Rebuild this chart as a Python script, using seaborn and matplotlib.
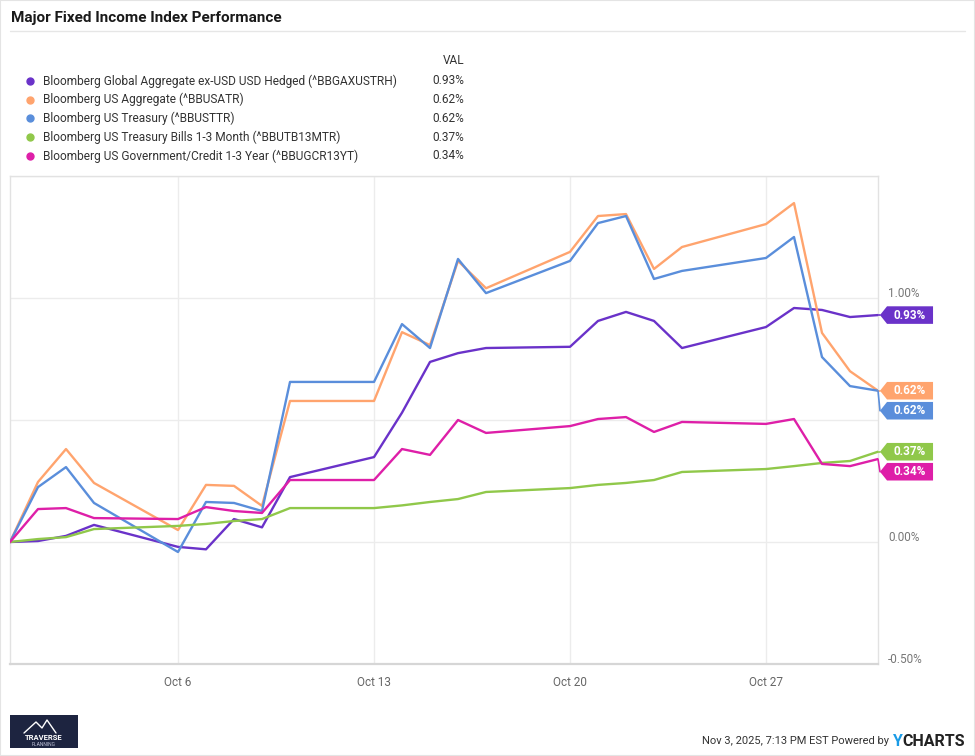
import pandas as pd
import seaborn as sns
import matplotlib.pyplot as plt
import matplotlib.transforms as mtransforms
from matplotlib.patches import Polygon, Rectangle
from matplotlib.lines import Line2D

# trading days shown on the chart (calendar x axis, weekends skipped)
dates = pd.to_datetime([
    "2025-09-30", "2025-10-01", "2025-10-02", "2025-10-03",
    "2025-10-06", "2025-10-07", "2025-10-08", "2025-10-09", "2025-10-10",
    "2025-10-13", "2025-10-14", "2025-10-15", "2025-10-16", "2025-10-17",
    "2025-10-20", "2025-10-21", "2025-10-22", "2025-10-23", "2025-10-24",
    "2025-10-27", "2025-10-28", "2025-10-29", "2025-10-30", "2025-10-31",
])

series_names = [
    "Bloomberg Global Aggregate ex-USD USD Hedged (^BBGAXUSTRH)",
    "Bloomberg US Aggregate (^BBUSATR)",
    "Bloomberg US Treasury (^BBUSTTR)",
    "Bloomberg US Treasury Bills 1-3 Month (^BBUTB13MTR)",
    "Bloomberg US Government/Credit 1-3 Year (^BBUGCR13YT)",
]

global_agg = [0.00, 0.004, 0.025, 0.07, -0.02, -0.03, 0.094, 0.06, 0.266,
              0.348, 0.53, 0.738, 0.774, 0.795, 0.80, 0.906, 0.943, 0.906,
              0.795, 0.881, 0.959, 0.951, 0.922, 0.93]
us_agg = [0.00, 0.246, 0.381, 0.242, 0.049, 0.234, 0.23, 0.148, 0.578,
          0.578, 0.86, 0.807, 1.152, 1.04, 1.189, 1.336, 1.344, 1.119,
          1.209, 1.303, 1.389, 0.857, 0.70, 0.62]
us_treasury = [0.00, 0.225, 0.307, 0.16, -0.041, 0.164, 0.16, 0.127, 0.656,
               0.656, 0.893, 0.795, 1.16, 1.02, 1.152, 1.307, 1.336, 1.078,
               1.111, 1.164, 1.25, 0.758, 0.639, 0.62]
tbills = [0.00, 0.012, 0.02, 0.053, 0.066, 0.074, 0.086, 0.094, 0.139,
          0.139, 0.15, 0.164, 0.176, 0.205, 0.221, 0.234, 0.242, 0.254,
          0.287, 0.299, 0.311, 0.324, 0.332, 0.37]
govcredit = [0.00, 0.135, 0.139, 0.098, 0.094, 0.143, 0.127, 0.119, 0.254,
             0.254, 0.381, 0.357, 0.50, 0.447, 0.475, 0.504, 0.512, 0.451,
             0.492, 0.484, 0.504, 0.32, 0.311, 0.34]

colors = ["#6a32c9", "#ffa46e", "#5a8edb", "#90c84a", "#de1fa8"]

y_ticks = [-0.5, 0.0, 0.5, 1.0]
y_tick_labels = ["-0.50%", "0.00%", "0.50%", "1.00%"]
x_ticks = pd.to_datetime(["2025-10-06", "2025-10-13", "2025-10-20", "2025-10-27"])
x_tick_labels = ["Oct 6", "Oct 13", "Oct 20", "Oct 27"]

df = pd.DataFrame({"date": dates})
for name, vals in zip(series_names, [global_agg, us_agg, us_treasury, tbills, govcredit]):
    df[name] = vals
long_df = df.melt(id_vars="date", var_name="index", value_name="value")

sns.set_theme(style="white")
plt.rcParams["font.family"] = ["Roboto", "DejaVu Sans"]

W, H = 975, 756
fig = plt.figure(figsize=(W / 100, H / 100), dpi=100)
ax = fig.add_axes([10 / W, 1 - 664 / H, 868 / W, 488 / H])

sns.lineplot(data=long_df, x="date", y="value", hue="index", hue_order=series_names,
             palette=colors, linewidth=1.7, legend=False, ax=ax, zorder=3)

ax.set_xlim(dates[0], dates[-1])
ax.set_ylim(-0.5, 1.5)
ax.set_xticks(x_ticks)
ax.set_xticklabels(x_tick_labels)
ax.set_yticks(y_ticks + [1.5])
ax.set_yticklabels([])
ax.set_xlabel("")
ax.set_ylabel("")
ax.grid(True, color="#ececec", linewidth=1)
ax.tick_params(axis="both", length=0)
ax.tick_params(axis="x", pad=9, labelsize=8.5, labelcolor="#666666")
for sp in ax.spines.values():
    sp.set_color("#e2e2e2")
    sp.set_linewidth(1)
ax.spines["bottom"].set_color("#d6d6d6")
ax.spines["bottom"].set_linewidth(1.6)

# right side y labels sitting just above each gridline
trans = mtransforms.blended_transform_factory(ax.transAxes, ax.transData)
for v, lab in zip(y_ticks, y_tick_labels):
    ax.annotate(lab, xy=(1.0115, v), xycoords=trans, xytext=(0, -1.5),
                textcoords="offset points", ha="left", va="bottom",
                fontsize=8.5, color="#777777", zorder=1, annotation_clip=False)

# end-of-line value tags, pushed apart when they would overlap
last_vals = [s[-1] for s in [global_agg, us_agg, us_treasury, tbills, govcredit]]
gap = 0.082
half = 0.036
tag_y = []
prev = None
for v in last_vals:
    ty = v if prev is None else min(v, prev - gap)
    tag_y.append(ty)
    prev = ty

for v, ty, c in zip(last_vals, tag_y, colors):
    ax.add_line(Line2D([1.0, 1.0023], [v, ty], transform=trans, color=c,
                       linewidth=1.2, clip_on=False, zorder=4))
    poly = Polygon([(1.0023, ty), (1.0104, ty + half), (1.0634, ty + half),
                    (1.0634, ty - half), (1.0104, ty - half)],
                   closed=True, transform=trans, facecolor=c, edgecolor="none",
                   clip_on=False, zorder=5)
    ax.add_patch(poly)
    ax.text(1.0369, ty, f"{v:.2f}%", transform=trans, ha="center", va="center",
            fontsize=8.5, fontweight="bold", color="white", zorder=6, clip_on=False)

# title and separator
fig.text(11 / W, 1 - 18 / H, "Major Fixed Income Index Performance", ha="left",
         va="center", fontsize=11, fontweight="bold", color="#1a1a1a")
fig.add_artist(Line2D([10 / W, 965 / W], [1 - 31 / H, 1 - 31 / H],
                      transform=fig.transFigure, color="#e6e6e6", linewidth=1))

# legend block with VAL column
fig.text(464 / W, 1 - 61 / H, "VAL", ha="right", va="center", fontsize=8.6, color="#333333")
for i, (name, c, v) in enumerate(zip(series_names, colors, last_vals)):
    yy = 1 - (81 + i * 18.7) / H
    fig.add_artist(Line2D([30 / W], [yy], transform=fig.transFigure, marker="o",
                          markersize=5, color=c, linestyle="none"))
    fig.text(43 / W, yy, name, ha="left", va="center", fontsize=8.6, color="#333333")
    fig.text(464 / W, yy, f"{v:.2f}%", ha="right", va="center", fontsize=8.6, color="#333333")

# logo box
fig.add_artist(Rectangle((10 / W, 1 - 748 / H), 68 / W, 33 / H, transform=fig.transFigure,
                         facecolor="#1d2440", edgecolor="none"))
fig.add_artist(Line2D([24 / W, 36 / W, 42 / W, 47 / W, 56 / W],
                      [1 - 733 / H, 1 - 722 / H, 1 - 728 / H, 1 - 720 / H, 1 - 733 / H],
                      transform=fig.transFigure, color="white", linewidth=1))
fig.text(44 / W, 1 - 737 / H, "TRAVERSE", ha="center", va="center", fontsize=5.5,
         fontweight="bold", color="white")
fig.text(44 / W, 1 - 744 / H, "PLANNING", ha="center", va="center", fontsize=3.5,
         color="#c8cbe0")

# footer
fy = 1 - 741 / H
t_charts = fig.text(965 / W, fy, "CHARTS", ha="right", va="center", fontsize=11.5,
                    fontweight="bold", color="#222222")
fig.canvas.draw()
bb = t_charts.get_window_extent()
t_y = fig.text(bb.x0 / W, fy, "Y", ha="right", va="center", fontsize=11.5,
               fontweight="bold", color="#1a9be6")
fig.canvas.draw()
bb2 = t_y.get_window_extent()
fig.text((bb2.x0 - 3) / W, fy, "Nov 3, 2025, 7:13 PM EST Powered by", ha="right",
         va="center", fontsize=8, color="#333333")

fig.add_artist(Rectangle((0, 0), 1, 1, transform=fig.transFigure, fill=False,
                         edgecolor="#e4e4e4", linewidth=1.5))

fig.savefig("out.png", dpi=100)
plt.close(fig)
